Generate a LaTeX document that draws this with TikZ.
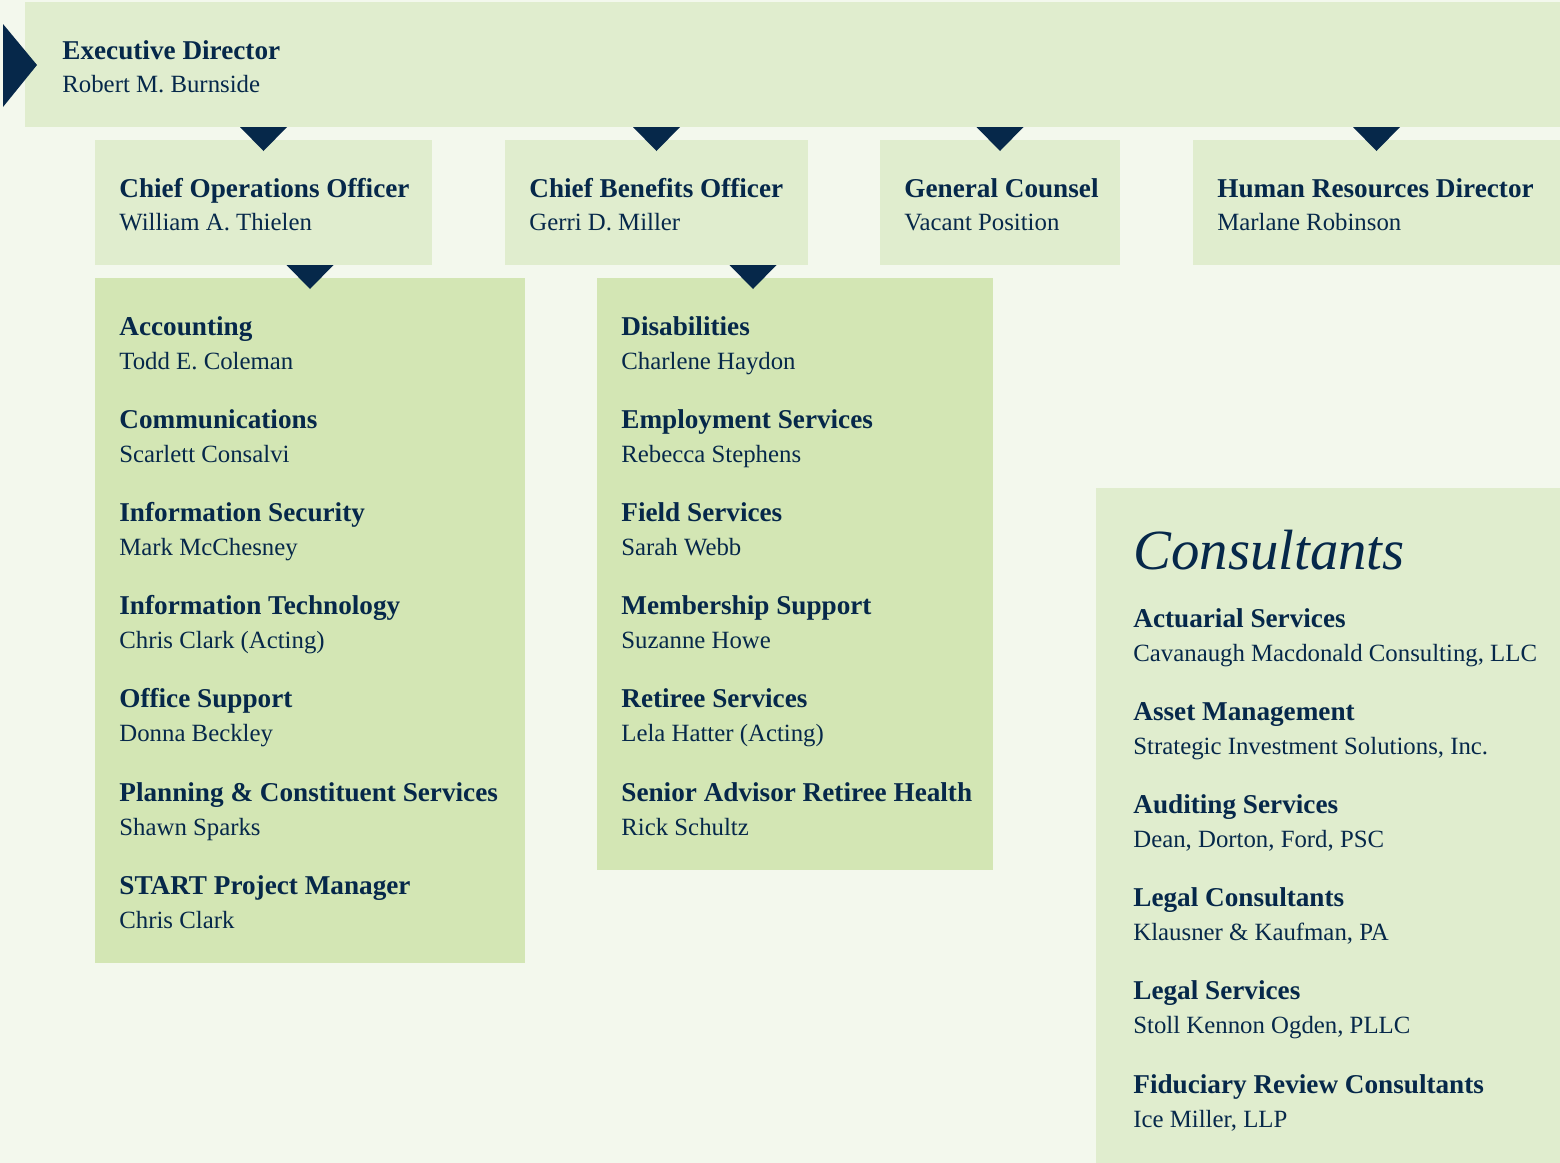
\documentclass[tikz,border=0pt]{standalone}
\usepackage{fontspec}
\setmainfont{Liberation Serif}
\usetikzlibrary{fit}

\definecolor{navy}{HTML}{06284A}
\definecolor{paper}{HTML}{F3F8ED}
\definecolor{lightbox}{HTML}{E0EDCE}
\definecolor{darkbox}{HTML}{D3E6B4}

\tikzset{
	box/.style={fill=lightbox, inner sep=0pt, outer sep=0pt},
	listbox/.style={fill=darkbox, inner sep=0pt, outer sep=0pt},
	role/.style={anchor=base west, inner sep=0pt, text=navy, font=\fontsize{13.6}{16}\selectfont\bfseries},
	person/.style={anchor=base west, inner sep=0pt, text=navy, font=\fontsize{12.4}{15}\selectfont},
	pointer/.style={fill=navy},
}

% down pointer, #1 = middle of its base
\newcommand{\downtip}[1]{\fill[pointer] (#1) ++(-23.5,0) -- ++(47,0) -- ++(-23.5,24) -- cycle;}

\begin{document}
\begin{tikzpicture}[x=0.5pt, y=-0.5pt]
		\fill[paper] (0,0) rectangle (1560,1163);
		\useasboundingbox (0,0) rectangle (1560,1163);
	
		% boxes
		\node[box, fit={(25,2) (1560,127)}] (exec) {};
		\node[box, fit={(95,140) (432,265)}] (coo) {};
		\node[box, fit={(505,140) (808,265)}] (cbo) {};
		\node[box, fit={(880,140) (1120,265)}] (gc) {};
		\node[box, fit={(1193,140) (1560,265)}] (hr) {};
		\node[listbox, fit={(95,278) (525,963)}] (ops) {};
		\node[listbox, fit={(597,278) (993,870)}] (ben) {};
		\node[box, fit={(1096,488) (1560,1163)}] (cons) {};
	
		% pointers
		\fill[pointer] (3,24) -- (37,65) -- (3,107) -- cycle;
		\foreach \b in {coo, cbo, gc, hr} {
			\downtip{\b.north |- exec.south}
		}
		\downtip{ops.north |- coo.south}
		\downtip{753,0 |- cbo.south}
	
		% top rows
		\node[role] (exec-t) at (62,59) {Executive Director};
		\node[person] (exec-n) at (62,92) {Robert M. Burnside};
		\foreach \b/\x/\t/\n in {coo/119/Chief Operations Officer/William A. Thielen,
				cbo/529/Chief Benefits Officer/Gerri D. Miller,
				gc/904/General Counsel/Vacant Position,
				hr/1217/Human Resources Director/Marlane Robinson} {
			\node[role] (\b-t) at (\x,197) {\t};
			\node[person] (\b-n) at (\x,230) {\n};
		}
	
		% operations
		\foreach \t/\n [count=\i from 0] in {Accounting/Todd E. Coleman,
				Communications/Scarlett Consalvi,
				Information Security/Mark McChesney,
				Information Technology/Chris Clark (Acting),
				Office Support/Donna Beckley,
				Planning \& Constituent Services/Shawn Sparks,
				START Project Manager/Chris Clark} {
			\node[role] (ops\i-t) at (119,335+93.2*\i) {\t};
			\node[person] (ops\i-n) at (119,369+93.2*\i) {\n};
		}
	
		% benefits
		\foreach \t/\n [count=\i from 0] in {Disabilities/Charlene Haydon,
				Employment Services/Rebecca Stephens,
				Field Services/Sarah Webb,
				Membership Support/Suzanne Howe,
				Retiree Services/Lela Hatter (Acting),
				Senior Advisor Retiree Health/Rick Schultz} {
			\node[role] (ben\i-t) at (621,335+93.2*\i) {\t};
			\node[person] (ben\i-n) at (621,369+93.2*\i) {\n};
		}
	
		% consultants
		\node[anchor=base west, inner sep=0pt, text=navy, font=\fontsize{28.4}{32}\selectfont\itshape] (cons-h) at (1133,569) {Consultants};
		\foreach \t/\n [count=\i from 0] in {Actuarial Services/{Cavanaugh Macdonald Consulting, LLC},
				Asset Management/{Strategic Investment Solutions, Inc.},
				Auditing Services/{Dean, Dorton, Ford, PSC},
				Legal Consultants/{Klausner \& Kaufman, PA},
				Legal Services/{Stoll Kennon Ogden, PLLC},
				Fiduciary Review Consultants/{Ice Miller, LLP}} {
			\node[role] (cons\i-t) at (1133,627+93.2*\i) {\t};
			\node[person] (cons\i-n) at (1133,661+93.2*\i) {\n};
		}
	\end{tikzpicture}
\end{document}
